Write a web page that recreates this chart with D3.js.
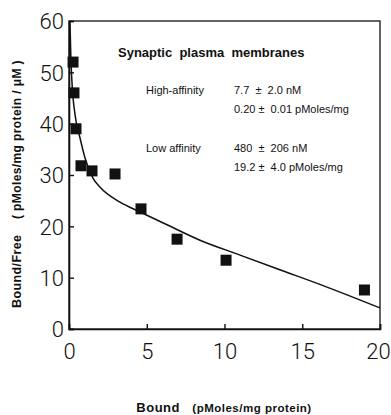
<!DOCTYPE html>
<html>
<head>
<meta charset="utf-8">
<script src="https://cdn.jsdelivr.net/npm/d3@7"></script>
<style>
  body { margin: 0; background: #fff; }
  svg { display: block; }
</style>
</head>
<body>
<div id="chart"></div>
<script>
// measured points (Bound, Bound/Free)
var boundVals = [0.26, 0.32, 0.45, 0.77, 1.48, 2.96, 4.63, 6.95, 10.1, 19.0];
var ratioVals = [52.0, 46.0, 39.0, 31.8, 30.8, 30.2, 23.4, 17.5, 13.4, 7.6];

// fitted two-site curve
var curveX = [0.06, 0.12, 0.19, 0.39, 0.71, 1.03, 1.54, 2.0, 3.28, 4.57, 6.3, 8.42, 11.0, 13.6, 16.3, 20];
var curveY = [60, 53, 48.1, 41.7, 37.2, 33.3, 29.4, 27.6, 24.7, 22.8, 20.3, 17.3, 14.4, 11.5, 8.5, 4.1];

var xTicks = [0, 5, 10, 15, 20];
var yTicks = [0, 10, 20, 30, 40, 50, 60];

var notes = [
    {label: "High-affinity", v1: "7.7  \u00b1  2.0 nM", v2: "0.20 \u00b1  0.01 pMoles/mg"},
    {label: "Low affinity", v1: "480  \u00b1  206 nM", v2: "19.2 \u00b1  4.0 pMoles/mg"}
];

(function () {
    var W = 391, H = 415;
    var margin = {top: 21, right: 11, bottom: 86, left: 69},
        width = W - margin.left - margin.right,
        height = H - margin.top - margin.bottom;

    var svg = d3.select("#chart").append("svg")
        .attr("width", W)
        .attr("height", H);

    var g = svg.append("g")
        .attr("transform", "translate(" + margin.left + "," + margin.top + ")");

    var x = d3.scaleLinear().domain([0, 20]).range([0, width]);
    var y = d3.scaleLinear().domain([0, 60]).range([height, 0]);

    var ink = "#111";
    var tickFont = "Roboto, 'Liberation Sans', sans-serif";
    var textFont = "'Liberation Sans', Arial, sans-serif";

    // frame
    g.append("rect")
        .attr("x", 0).attr("y", 0)
        .attr("width", width).attr("height", height)
        .attr("fill", "none")
        .attr("stroke", ink)
        .attr("stroke-width", 1.3);

    // axes with inward ticks
    var xAxis = d3.axisBottom(x).tickValues(xTicks).tickSize(-5).tickPadding(14).tickFormat(d3.format("d"));
    var yAxis = d3.axisLeft(y).tickValues(yTicks).tickSize(-5).tickPadding(5).tickFormat(d3.format("d"));

    var gx = g.append("g").attr("transform", "translate(0," + height + ")").call(xAxis);
    var gy = g.append("g").call(yAxis);

    [gx, gy].forEach(function (ax) {
        ax.select(".domain").attr("stroke", ink).attr("stroke-width", 1.6);
        ax.selectAll(".tick line").attr("stroke", ink).attr("stroke-width", 1.4);
        ax.selectAll(".tick text")
            .style("font-family", tickFont)
            .style("font-weight", 300)
            .style("font-size", "22px")
            .attr("fill", ink);
    });
    gy.selectAll(".tick text").attr("dy", "0.36em");
    gx.selectAll(".tick text").attr("dy", "0.71em")
        .attr("dx", function (d) { return d === 20 ? -2 : 0; });

    // curve
    var line = d3.line()
        .x(function (d) { return x(d[0]); })
        .y(function (d) { return y(d[1]); })
        .curve(d3.curveMonotoneX);

    g.append("path")
        .datum(d3.zip(curveX, curveY))
        .attr("d", line)
        .attr("fill", "none")
        .attr("stroke", ink)
        .attr("stroke-width", 1.5);

    // square markers
    var s = 11;
    g.selectAll(".pt")
        .data(d3.zip(boundVals, ratioVals))
        .enter().append("rect")
        .attr("class", "pt")
        .attr("x", function (d) { return x(d[0]) - s / 2; })
        .attr("y", function (d) { return y(d[1]) - s / 2; })
        .attr("width", s)
        .attr("height", s)
        .attr("fill", ink);

    // annotation block
    svg.append("text")
        .attr("x", 118).attr("y", 57)
        .style("font-family", textFont)
        .style("font-weight", 700)
        .style("font-size", "13px")
        .style("white-space", "pre")
        .attr("fill", ink)
        .text("Synaptic  plasma  membranes");

    notes.forEach(function (n, i) {
        var y0 = 94 + i * 58;
        svg.append("text")
            .attr("x", 146).attr("y", y0)
            .style("font-family", textFont)
            .style("font-size", "11px")
            .attr("fill", ink)
            .text(n.label);
        svg.append("text")
            .attr("x", 234).attr("y", y0)
            .style("font-family", textFont)
            .style("font-size", "11px")
            .attr("fill", ink)
            .style("white-space", "pre")
            .text(n.v1);
        svg.append("text")
            .attr("x", 234).attr("y", y0 + 19)
            .style("font-family", textFont)
            .style("font-size", "11px")
            .attr("fill", ink)
            .style("white-space", "pre")
            .text(n.v2);
    });

    // y axis title
    var yt = svg.append("text")
        .attr("transform", "translate(21,184) rotate(-90)")
        .attr("text-anchor", "middle")
        .style("font-family", textFont)
        .style("font-weight", 700)
        .style("font-size", "12px")
        .style("letter-spacing", "0.4px")
        .style("white-space", "pre")
        .attr("fill", ink);
    yt.append("tspan").style("font-size", "12.5px").text("Bound/Free    ");
    yt.append("tspan").text("( pMoles/mg protein / \u03bcM )");

    // x axis title
    var xt = svg.append("text")
        .attr("x", 224).attr("y", 412)
        .attr("text-anchor", "middle")
        .style("font-family", textFont)
        .style("font-weight", 700)
        .style("font-size", "11.5px")
        .style("letter-spacing", "0.5px")
        .style("white-space", "pre")
        .attr("fill", ink);
    xt.append("tspan").style("font-size", "13px").text("Bound   ");
    xt.append("tspan").text("(pMoles/mg protein)");
})();
</script>
</body>
</html>
